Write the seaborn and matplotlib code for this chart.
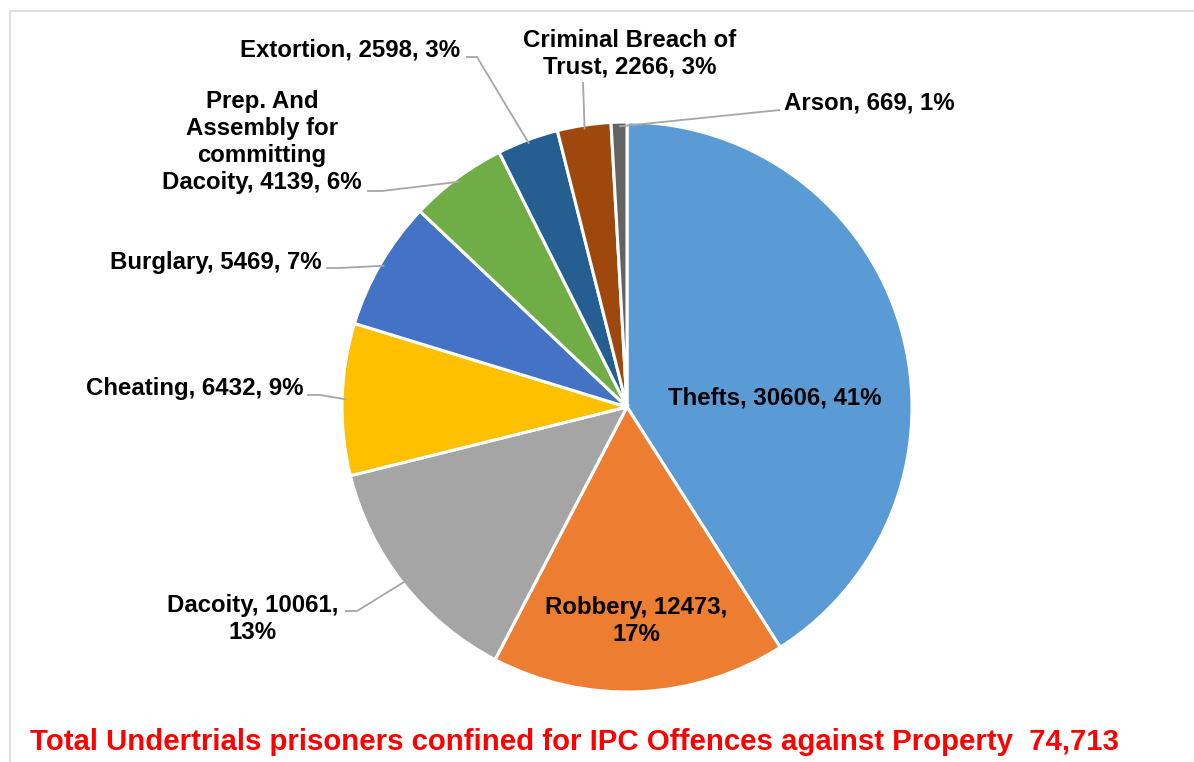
import numpy as np
import matplotlib
matplotlib.use("Agg")
import matplotlib.pyplot as plt
from matplotlib.patches import Rectangle
import seaborn as sns

# Undertrial prisoners by IPC offence against property
categories = ["Thefts", "Robbery", "Dacoity", "Cheating", "Burglary",
              "Prep. And Assembly for committing Dacoity", "Extortion",
              "Criminal Breach of Trust", "Arson"]
counts = [30606, 12473, 10061, 6432, 5469, 4139, 2598, 2266, 669]
percents = [41, 17, 13, 9, 7, 6, 3, 3, 1]
label_texts = [
    "Thefts, 30606, 41%",
    "Robbery, 12473,\n17%",
    "Dacoity, 10061,\n13%",
    "Cheating, 6432, 9%",
    "Burglary, 5469, 7%",
    "Prep. And\nAssembly for\ncommitting\nDacoity, 4139, 6%",
    "Extortion, 2598, 3%",
    "Criminal Breach of\nTrust, 2266, 3%",
    "Arson, 669, 1%",
]
total_text = "Total Undertrials prisoners confined for IPC Offences against Property  74,713"
slice_colors = ["#5B9BD5", "#ED7D31", "#A5A5A5", "#FFC000", "#4472C4",
                "#70AD47", "#255E91", "#9E480E", "#636363"]

sns.set_theme(style="white")
plt.rcParams["font.family"] = ["Liberation Sans", "DejaVu Sans"]
palette = sns.color_palette(slice_colors)

W, H = 1194, 762
fig = plt.figure(figsize=(W / 100, H / 100), dpi=100)
ax = fig.add_axes([0, 0, 1, 1])

def P(x, y):
    """pixel position (origin top-left) -> axes data coordinates"""
    return x, H - y

cx, cy = P(627, 407)
R = 285
wedges, _ = ax.pie(counts, colors=palette, startangle=90, counterclock=False,
                   center=(cx, cy), radius=R, frame=True,
                   wedgeprops=dict(edgecolor="white", linewidth=2.2))
ax.set_xlim(0, W)
ax.set_ylim(0, H)
ax.set_aspect("equal")
ax.axis("off")

# chart area frame
fig.patches.append(Rectangle((10 / W, -0.1), 1.2, (H - 11) / H + 0.1,
                             transform=fig.transFigure, fill=False,
                             edgecolor="#D9D9D9", linewidth=1.2))

fs = 17.3
txt = dict(fontsize=fs, fontweight="bold", color="black", linespacing=1.22)

# label placement: (x, y, ha) in pixels
placement = {
    "Thefts": (775, 398, "center"),
    "Robbery": (636, 621, "center"),
    "Dacoity": (253, 619, "center"),
    "Cheating": (304, 388, "right"),
    "Burglary": (322, 262, "right"),
    "Prep. And Assembly for committing Dacoity": (262, 142, "center"),
    "Extortion": (460, 50, "right"),
    "Criminal Breach of Trust": (630, 54, "center"),
    "Arson": (784, 103, "left"),
}
# leader line start and elbow for outside labels (pixels)
leaders = {
    "Dacoity": [(345, 611), (357, 611)],
    "Cheating": [(307, 395), (320, 395)],
    "Burglary": [(326, 268), (340, 268)],
    "Prep. And Assembly for committing Dacoity": [(367, 191), (382, 191)],
    "Extortion": [(466, 57), (477, 57)],
    "Criminal Breach of Trust": [(583, 82)],
    "Arson": [(780, 110)],
}

for cat, w, lab in zip(categories, wedges, label_texts):
    x, y, ha = placement[cat]
    ax.text(*P(x, y), lab, ha=ha, va="center", multialignment="center", **txt)
    if cat in leaders:
        mid = np.deg2rad((w.theta1 + w.theta2) / 2)
        ex = cx + 0.985 * R * np.cos(mid)
        ey = cy + 0.985 * R * np.sin(mid)
        pts = [P(px, py) for px, py in leaders[cat]] + [(ex, ey)]
        xs, ys = zip(*pts)
        ax.plot(xs, ys, color="#A6A6A6", linewidth=1.3, solid_capstyle="butt")

ax.text(*P(30, 742), total_text, ha="left", va="center",
        fontsize=21.2, fontweight="bold", color="#FF0000")

fig.savefig("out.png", dpi=100, facecolor="white")
